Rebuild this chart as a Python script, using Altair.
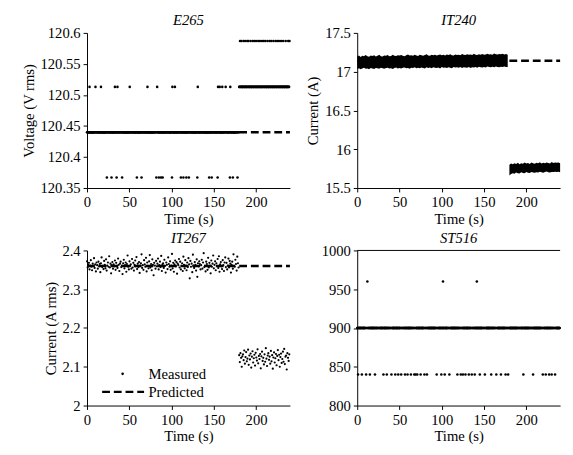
import altair as alt
import numpy as np
import pandas as pd

FONT = "Liberation Serif"
FONT_EXPR = alt.ExprRef("'Liberation Serif'")
W, H = 208, 159

TIME_DOMAIN = [0, 240]
TIME_TICKS = [0, 50, 100, 150, 200]
STEP_TIME = 0.5
SWITCH_TIME = 180

# ---------------- E265 (voltage) ----------------
E265_DOMAIN = [120.35, 120.6]
E265_TICKS = [120.35, 120.4, 120.45, 120.5, 120.55, 120.6]
E265_PRED = 120.44
E265_BEFORE = 120.44
E265_AFTER = 120.513
E265_HIGH = 120.513
E265_LOW = 120.367
E265_TOP = 120.587
E265_HIGH_TIMES = [3, 10, 16.5, 33, 36, 50.5, 71.5, 83, 101, 104, 131, 155, 157, 160, 164, 169.5]
E265_LOW_TIMES = [23.5, 29, 35, 41.5, 59, 64.5, 82, 85, 87.5, 89.5, 100.5, 111, 114, 117.5,
                  120.5, 130.5, 144.5, 147.5, 154.5, 169, 172.5, 178]
E265_TOP_TIMES = [181, 182.5, 185, 187, 189.5, 191, 193.5, 196, 198, 200, 202.5, 204.5, 207,
                  209, 211, 213.5, 216, 218, 220.5, 223, 225, 227, 229.5, 232, 235, 238, 239.5]

# ---------------- IT240 (current, envelope of the dense band) ----------------
IT240_DOMAIN = [15.5, 17.5]
IT240_TICKS = [15.5, 16, 16.5, 17, 17.5]
IT240_PRED = 17.14
IT240_STEP = 2
IT240_PRE_UPPER = [195, 210, 190, 205, 200, 215, 198, 192, 208, 202, 212, 196, 204, 218, 200, 197, 210, 206, 214, 199,
                   203, 220, 207, 201, 212, 209, 216, 204, 199, 213, 222, 208, 211, 205, 217, 210, 203, 219, 213, 207,
                   215, 225, 210, 206, 218, 212, 220, 209, 214, 223, 211, 217, 208, 221, 215, 226, 213, 210, 222, 216,
                   219, 212, 228, 217, 214, 224, 218, 221, 215, 230, 219, 216, 225, 220, 227, 218, 223, 232, 221, 226,
                   219, 235, 224, 222, 228, 225, 231, 223, 229, 220]
IT240_PRE_LOWER = [35, 45, 30, 40, 50, 38, 42, 33, 47, 41, 36, 48, 44, 39, 52, 43, 37, 46, 50, 41,
                   45, 34, 49, 53, 42, 47, 40, 51, 55, 44, 48, 39, 52, 46, 57, 43, 50, 45, 54, 48,
                   41, 56, 49, 53, 44, 58, 51, 47, 55, 42, 60, 50, 54, 48, 57, 52, 45, 59, 53, 56,
                   50, 61, 47, 58, 55, 52, 62, 49, 57, 54, 60, 51, 64, 58, 55, 62, 53, 66, 59, 57,
                   63, 56, 68, 60, 58, 65, 61, 67, 59, 62]
IT240_POST_UPPER = [800, 815, 805, 820, 810, 825, 808, 818, 812, 830, 815, 822, 810, 828, 818, 812,
                    825, 820, 832, 815, 826, 819, 830, 823, 817, 835, 822, 828, 825, 830, 818]
IT240_POST_LOWER = [660, 680, 690, 685, 700, 692, 688, 702, 695, 690, 705, 698, 693, 708, 700, 696,
                    704, 699, 710, 702, 697, 706, 712, 703, 700, 708, 705, 711, 706, 709, 704]

# ---------------- IT267 (current rms, individual readings) ----------------
IT267_DOMAIN = [2.0, 2.4]
IT267_TICKS = [2.0, 2.1, 2.2, 2.3, 2.4]
IT267_PRED = 2.36
IT267_STEP = 0.75
IT267_PRE_CENTER = 2.36
IT267_POST_CENTER = 2.12
IT267_PRE_OFFSETS = [
    12, -4, 3, 8, -9, 1, 15, -2, -11, 6, 0, 20, -5, 4, -14, 9, 2, -7, 11, -1,
    5, -16, 7, 22, -3, 0, -8, 13, 3, -6, 17, -12, 1, 9, -2, 25, -4, 6, -19, 2,
    10, -7, 4, -1, 14, -10, 8, 0, -5, 19, 3, -13, 6, 11, -3, 1, -21, 7, 16, -6,
    2, 9, -15, 5, 27, -2, -9, 12, 0, 4, -7, 18, -4, 8, -12, 3, 14, -1, 23, -8,
    6, -3, 10, -18, 1, 7, 30, -5, 2, -10, 15, 4, -2, 21, -14, 9, 0, -6, 12, 28,
    -4, 5, -11, 17, 3, -24, 8, 1, -7, 13, -1, 6, 19, -9, 2, 11, -3, 26, -13, 4,
    7, -5, 16, 0, -17, 9, 3, -8, 22, 5, -2, 12, -10, 1, 31, -6, 8, -15, 4, 14,
    -1, 10, -20, 6, 2, 18, -4, 11, -9, 0, 7, -13, 24, 3, -6, 15, 1, -11, 9, -3,
    20, 4, -32, 13, -2, 6, -16, 29, 1, -5, 10, 3, -12, 17, -28, 7, -1, 12, 5, -9,
    2, 16, -7, 9, 33, -3, 0, -14, 11, 5, -10, 21, -4, 8, 1, -19, 14, -2, 6, 27,
    -6, 3, 12, -11, 7, 0, 18, -5, 25, -15, 4, 10, -1, -8, 15, 2, -13, 9, 22, -3,
    8, -9, 1, 19, -4, 13, 6, -17, 3, 11, -7, 30, 0, -2, 16, 5, -12, 24, 7, -4]
IT267_POST_OFFSETS = [
    10, -8, 15, 3, -20, 7, 12, -3, 22, -12, 5, 18, -6, 1, 24, -15, 9, -1, 14, -22,
    6, 20, -9, 2, 11, -17, 16, 4, -4, 25, -11, 8, 0, 13, -24, 7, 19, -5, 3, -14,
    12, -7, 28, 1, -18, 9, 15, -2, 6, -12, 21, -6, 10, -25, 4, 17, -9, 2, 13, -16,
    8, 23, -3, 11, -20, 5, 14, -10, 0, 19, -7, 26, -13, 6, 9, -27, 15, 3, -5, 12]

# ---------------- ST516 ----------------
ST516_DOMAIN = [800, 1000]
ST516_TICKS = [800, 850, 900, 950, 1000]
ST516_PRED = 900
ST516_BASE = 900
ST516_LOW = 840
ST516_HIGH = 960
ST516_LOW_TIMES = [1, 5.5, 10.5, 15, 21, 31, 35, 40.5, 45, 48.5, 52, 56.5, 59.5, 63.5, 67.5, 69, 71,
                   75, 79.5, 82.5, 94, 99.5, 103.5, 109, 118.5, 122.5, 125, 128, 132, 135.5, 139,
                   145, 151, 158.5, 164.5, 170, 175.5, 178.5, 196.5, 208, 219.5, 223, 227, 230, 234]
ST516_HIGH_TIMES = [12, 101.5, 141.5]

LEGEND_MEASURED = "Measured"
LEGEND_PREDICTED = "Predicted"


def sampled(before, after, overrides):
    t = np.arange(TIME_DOMAIN[0], TIME_DOMAIN[1], STEP_TIME)
    v = np.where(t < SWITCH_TIME, before, after).astype(float)
    for value, times in overrides:
        for ti in times:
            v[int(round(ti / STEP_TIME))] = value
    return pd.DataFrame({"t": t, "v": v})


def predicted(value):
    return pd.DataFrame({"t": TIME_DOMAIN, "v": [value, value],
                         "pred": [LEGEND_PREDICTED, LEGEND_PREDICTED]})


e265_df = sampled(E265_BEFORE, E265_AFTER,
                  [(E265_HIGH, E265_HIGH_TIMES), (E265_LOW, E265_LOW_TIMES), (E265_TOP, E265_TOP_TIMES)])
st516_df = sampled(ST516_BASE, ST516_BASE,
                   [(ST516_LOW, ST516_LOW_TIMES), (ST516_HIGH, ST516_HIGH_TIMES)])

pre_t = np.arange(len(IT240_PRE_UPPER)) * IT240_STEP
post_t = SWITCH_TIME + np.arange(len(IT240_POST_UPPER)) * IT240_STEP
it240_df = pd.concat([
    pd.DataFrame({"t": pre_t, "lo": 17 + np.array(IT240_PRE_LOWER) / 1000,
                  "hi": 17 + np.array(IT240_PRE_UPPER) / 1000, "seg": "a"}),
    pd.DataFrame({"t": post_t, "lo": 15 + np.array(IT240_POST_LOWER) / 1000,
                  "hi": 15 + np.array(IT240_POST_UPPER) / 1000, "seg": "b"}),
])

it267_df = pd.concat([
    pd.DataFrame({"t": np.arange(len(IT267_PRE_OFFSETS)) * IT267_STEP,
                  "v": IT267_PRE_CENTER + np.array(IT267_PRE_OFFSETS) / 1000}),
    pd.DataFrame({"t": SWITCH_TIME + np.arange(len(IT267_POST_OFFSETS)) * IT267_STEP,
                  "v": IT267_POST_CENTER + np.array(IT267_POST_OFFSETS) / 1000}),
])
it267_df["meas"] = LEGEND_MEASURED

AXIS_STYLE = dict(labelFont=FONT_EXPR, titleFont=FONT_EXPR, labelFontSize=15, titleFontSize=15,
                  titleFontWeight=alt.ExprRef("'normal'"), labelColor="black", titleColor="black",
                  domainColor="black", tickColor="black", tickSize=4, labelPadding=3,
                  labelFlush=False, labelOverlap=False, grid=False, domainWidth=1)


def x_enc():
    return alt.X("t:Q", title="Time (s)",
                 scale=alt.Scale(domain=TIME_DOMAIN, nice=False, zero=False),
                 axis=alt.Axis(values=TIME_TICKS, format="d", titlePadding=2, **AXIS_STYLE))


def y_enc(field, title, domain, ticks, fmt):
    return alt.Y(f"{field}:Q", title=title,
                 scale=alt.Scale(domain=domain, nice=False, zero=False),
                 axis=alt.Axis(values=ticks, format=fmt, titlePadding=4, **AXIS_STYLE))


def ptitle(text):
    return alt.TitleParams(text, font=FONT_EXPR, fontSize=15, fontStyle="italic",
                           fontWeight=alt.ExprRef("'normal'"), color="black", offset=-2)


def dots(df, y, size=7, **kw):
    return alt.Chart(df).mark_point(filled=True, shape="circle", size=size, color="black",
                                    opacity=1, strokeWidth=0).encode(x=x_enc(), y=y, **kw)


def dashed(value, y, **kw):
    return alt.Chart(predicted(value)).mark_line(
        color="black", strokeWidth=2.5, strokeDash=[8, 4]).encode(x=x_enc(), y=y, **kw)


LEG_COMMON = dict(title=None, orient="none", padding=0, labelFont=FONT, labelFontSize=15,
                  labelColor="black", symbolOpacity=1)

# Panel 1
y1 = y_enc("v", "Voltage (V rms)", E265_DOMAIN, E265_TICKS, ".2~f")
p1 = alt.layer(dashed(E265_PRED, y1), dots(e265_df, y1)).properties(
    width=W, height=H, title=ptitle("E265"))

# Panel 2
y2 = y_enc("lo", "Current (A)", IT240_DOMAIN, IT240_TICKS, ".1~f")
band = alt.Chart(it240_df).mark_area(color="black", opacity=1).encode(
    x=x_enc(), y=y2, y2="hi:Q", detail="seg:N")
y2l = y_enc("v", "Current (A)", IT240_DOMAIN, IT240_TICKS, ".1~f")
p2 = alt.layer(band, dashed(IT240_PRED, y2l)).properties(
    width=W, height=H, title=ptitle("IT240"))

# Panel 3 with legend (one entry from the dots, one from the dashed line)
shape_enc = alt.Shape("meas:N", scale=alt.Scale(domain=[LEGEND_MEASURED], range=["circle"]),
                      legend=alt.Legend(legendX=29, legendY=119, symbolSize=7, symbolType="circle",
                                        symbolFillColor="black", symbolStrokeWidth=0,
                                        labelOffset=19, **LEG_COMMON))
dash_enc = alt.StrokeDash("pred:N", scale=alt.Scale(domain=[LEGEND_PREDICTED], range=[[8, 4]]),
                          legend=alt.Legend(legendX=14, legendY=122, symbolSize=1849, symbolType="stroke",
                                            symbolStrokeColor="black", symbolStrokeWidth=2.5,
                                            labelOffset=3, **LEG_COMMON))
y3 = y_enc("v", "Current (A rms)", IT267_DOMAIN, IT267_TICKS, ".1~f")
p3 = alt.layer(
    dots(it267_df, y3, size=5, shape=shape_enc),
    dashed(IT267_PRED, y3, strokeDash=dash_enc),
).properties(width=W, height=H, title=ptitle("IT267"))

# Panel 4
y4 = y_enc("v", None, ST516_DOMAIN, ST516_TICKS, "d")
top_rule = alt.Chart(pd.DataFrame({"v": [ST516_DOMAIN[1]]})).mark_rule(color="black", strokeWidth=1).encode(y=y4)
p4 = alt.layer(dashed(ST516_PRED, y4), dots(st516_df, y4), top_rule).properties(
    width=W, height=H, title=ptitle("ST516"))

chart = alt.concat(
    p1, p2, p3, p4, columns=2, spacing={"row": 64, "column": 69}, bounds="flush"
).resolve_scale(shape="independent", strokeDash="independent").resolve_legend(
    shape="independent", strokeDash="independent").properties(
    padding={"left": 13, "top": 0, "right": 0, "bottom": 0}
).configure_view(stroke=None).configure_axis(grid=False)

chart.save("out.html", embed_options={"renderer": "svg", "actions": False})
